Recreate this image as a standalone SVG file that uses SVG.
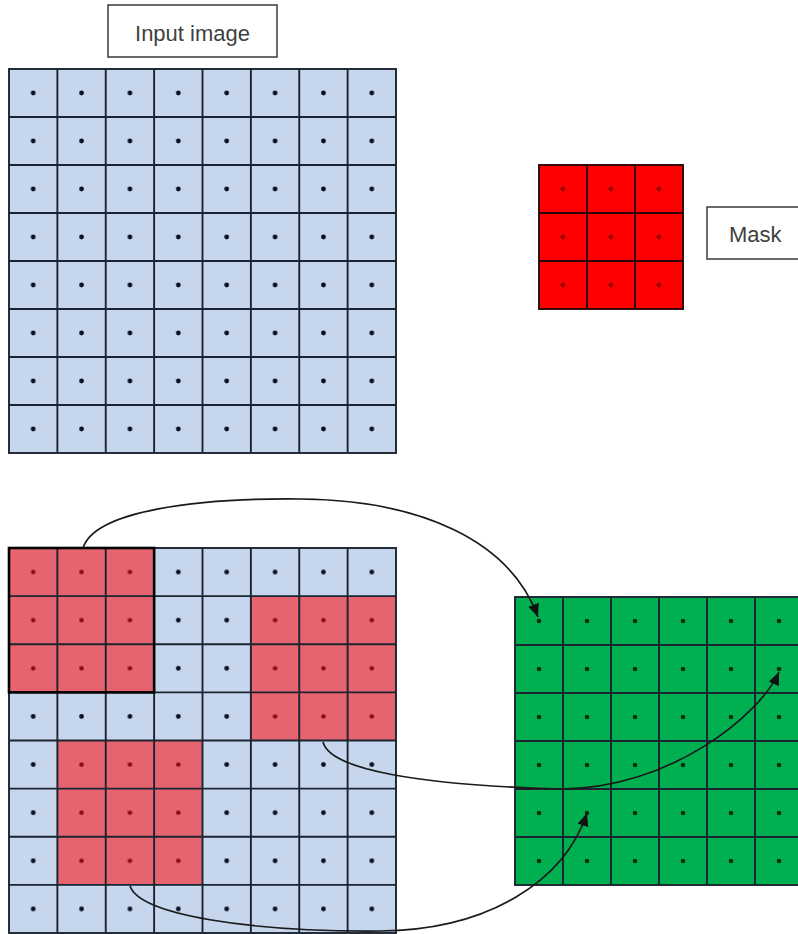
<svg xmlns="http://www.w3.org/2000/svg" xmlns:xlink="http://www.w3.org/1999/xlink" width="798" height="934" viewBox="0 0 798 934">
<style>
.lbl{fill:#fff;stroke:#3a3a3a;stroke-width:1.5}
.txt{font-family:"Liberation Sans",Arial,sans-serif;font-size:22px;fill:#404040}
.grid{fill:none;stroke:#1b2430;stroke-width:1.9}
.gridr{fill:none;stroke:#2a0505;stroke-width:1.9}
.conn{fill:none;stroke:#1a1a1a;stroke-width:1.7;marker-end:url(#ah)}
</style>
<defs>
<marker id="ah" markerUnits="userSpaceOnUse" markerWidth="14" markerHeight="12" refX="13" refY="5.5" orient="auto">
<path d="M0,0 L13,5.5 L0,11 z" fill="#111"/>
</marker>
<pattern id="pTop" patternUnits="userSpaceOnUse" x="9" y="69" width="48.375" height="48">
<rect width="48.375" height="48" fill="#c6d6ec"/><circle cx="24.19" cy="24" r="2.4" fill="#0b0f24"/>
</pattern>
<pattern id="pBlue" patternUnits="userSpaceOnUse" x="9" y="548" width="48.375" height="48.125">
<rect width="48.375" height="48.125" fill="#c6d6ec"/><circle cx="24.19" cy="24.06" r="2.4" fill="#0b0f24"/>
</pattern>
<pattern id="pRed" patternUnits="userSpaceOnUse" x="9" y="548" width="48.375" height="48.125">
<rect width="48.375" height="48.125" fill="#e5646f"/><circle cx="24.19" cy="24.06" r="2.3" fill="#8a0a12"/>
</pattern>
<pattern id="pMask" patternUnits="userSpaceOnUse" x="539" y="165" width="48" height="48">
<rect width="48" height="48" fill="#fe0000"/><circle cx="24" cy="24" r="2.4" fill="#9a0000"/>
</pattern>
<pattern id="pGreen" patternUnits="userSpaceOnUse" x="515" y="597" width="48" height="48">
<rect width="48" height="48" fill="#00b050"/><circle cx="24" cy="24" r="2.3" fill="#0a2a12"/>
</pattern>
</defs>
<rect width="798" height="934" fill="#fff"/>

<g id="label-input">
<rect class="lbl" x="108" y="5" width="169" height="52"/>
<text class="txt" x="192.5" y="41" text-anchor="middle">Input image</text>
</g>

<g id="input-grid">
<rect x="9" y="69" width="387" height="384" fill="url(#pTop)"/>
<path class="grid" d="M57.375,69V453M105.75,69V453M154.125,69V453M202.5,69V453M250.875,69V453M299.25,69V453M347.625,69V453M9,117H396M9,165H396M9,213H396M9,261H396M9,309H396M9,357H396M9,405H396"/>
<rect class="grid" x="9" y="69" width="387" height="384" stroke-width="2.2"/>
</g>

<g id="mask-grid">
<rect x="539" y="165" width="144" height="144" fill="url(#pMask)"/>
<path class="gridr" d="M587,165V309M635,165V309M539,213H683M539,261H683"/>
<rect class="gridr" x="539" y="165" width="144" height="144"/>
</g>

<g id="label-mask">
<rect class="lbl" x="707" y="207" width="100" height="52"/>
<text class="txt" x="729" y="242">Mask</text>
</g>

<g id="conv-grid">
<rect x="9" y="548" width="387" height="385" fill="url(#pBlue)"/>
<rect x="9" y="548" width="145.125" height="144.375" fill="url(#pRed)"/>
<rect x="250.875" y="596.125" width="145.125" height="144.375" fill="url(#pRed)"/>
<rect x="57.375" y="740.5" width="145.125" height="144.375" fill="url(#pRed)"/>
<path class="grid" d="M57.375,548V933M105.75,548V933M154.125,548V933M202.5,548V933M250.875,548V933M299.25,548V933M347.625,548V933M9,596.125H396M9,644.25H396M9,692.375H396M9,740.5H396M9,788.625H396M9,836.75H396M9,884.875H396"/>
<rect class="grid" x="9" y="548" width="387" height="385" stroke-width="2.2"/>
<rect x="9" y="548" width="145.125" height="144.375" fill="none" stroke="#000" stroke-width="2.6"/>
</g>

<g id="output-grid">
<rect x="515" y="597" width="288" height="288" fill="url(#pGreen)"/>
<path class="grid" stroke="#0e1a10" d="M563,597V885M611,597V885M659,597V885M707,597V885M755,597V885M515,645H803M515,693H803M515,741H803M515,789H803M515,837H803"/>
<rect class="grid" stroke="#0e1a10" x="515" y="597" width="288" height="288"/>
</g>

<g id="connectors">
<path class="conn" d="M83,548 C95,510 200,498 300,499 C420,500 510,540 538,617"/>
<path class="conn" d="M323,742 C330,770 420,785 560,789 C670,789 760,715 779,672"/>
<path class="conn" d="M130,886 C140,915 250,932 380,931 C490,930 565,880 587,813"/>
</g>
</svg>
